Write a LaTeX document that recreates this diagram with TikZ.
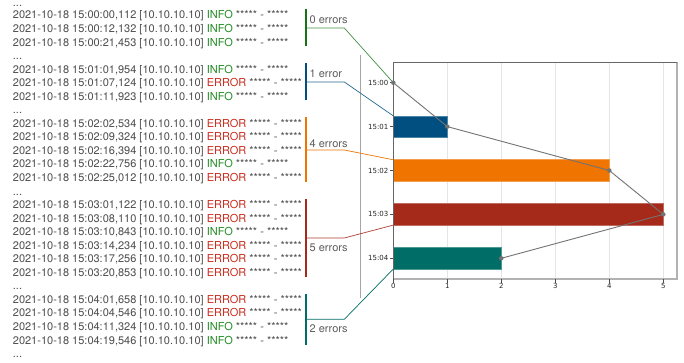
\documentclass[tikz,border=0pt]{standalone}
\usepackage{fontspec}
\setmainfont{TeX Gyre Heros}
\newfontfamily\tickfont{DejaVu Sans}
\definecolor{logtext}{RGB}{77,77,77}
\definecolor{infogreen}{RGB}{34,139,34}
\definecolor{errred}{RGB}{200,45,30}
\definecolor{cgreen}{RGB}{20,115,20}
\definecolor{cblue}{RGB}{0,79,128}
\definecolor{corange}{RGB}{240,116,0}
\definecolor{cred}{RGB}{165,42,26}
\definecolor{cteal}{RGB}{0,110,102}
\definecolor{lbl}{RGB}{95,95,95}
\newcommand\INFO{\textcolor{infogreen}{INFO}}
\newcommand\ERR{\textcolor{errred}{ERROR}}
\tikzset{
  logline/.style={anchor=base west, inner sep=0pt, font=\fontsize{11}{13}\selectfont, text=logtext},
  brk/.style={line width=2.3pt},
  conn/.style={line width=0.7pt},
  errlbl/.style={anchor=west, inner sep=0pt, font=\fontsize{11}{13}\selectfont, text=lbl},
  ytick/.style={anchor=east, inner sep=0pt, font=\tickfont\fontsize{7}{8}\selectfont, text=black!85},
  xtick/.style={anchor=north, inner sep=0pt, font=\tickfont\fontsize{7}{8}\selectfont, text=black!85},
  bar/.style={line width=0.6pt},
  grid/.style={draw=black!10, line width=0.7pt},
  trend/.style={draw=black!55, line width=0.9pt},
  dot/.style={circle, fill=black!55, inner sep=0pt, minimum size=4.5pt}
}
\begin{document}
\begin{tikzpicture}[x=1pt,y=-1pt]
\useasboundingbox (0,0) rectangle (684,363);
\fill[white] (0,0) rectangle (684,363);
% log lines: baseline = 5.5 + 13.54 i
\node[logline] (l0)  at (12.7,  6.3) {...};
\node[logline] (l1)  at (12.7, 19.0) {2021-10-18 15:00:00,112 [10.10.10.10] \INFO{} ***** - *****};
\node[logline] (l2)  at (12.7, 32.6) {2021-10-18 15:00:12,132 [10.10.10.10] \INFO{} ***** - *****};
\node[logline] (l3)  at (12.7, 46.1) {2021-10-18 15:00:21,453 [10.10.10.10] \INFO{} ***** - *****};
\node[logline] (l4)  at (12.7, 59.7) {...};
\node[logline] (l5)  at (12.7, 73.2) {2021-10-18 15:01:01,954 [10.10.10.10] \INFO{} ***** - *****};
\node[logline] (l6)  at (12.7, 86.7) {2021-10-18 15:01:07,124 [10.10.10.10] \ERR{} ***** - *****};
\node[logline] (l7)  at (12.7,100.3) {2021-10-18 15:01:11,923 [10.10.10.10] \INFO{} ***** - *****};
\node[logline] (l8)  at (12.7,113.8) {...};
\node[logline] (l9)  at (12.7,127.4) {2021-10-18 15:02:02,534 [10.10.10.10] \ERR{} ***** - *****};
\node[logline] (l10) at (12.7,140.9) {2021-10-18 15:02:09,324 [10.10.10.10] \ERR{} ***** - *****};
\node[logline] (l11) at (12.7,154.4) {2021-10-18 15:02:16,394 [10.10.10.10] \ERR{} ***** - *****};
\node[logline] (l12) at (12.7,168.0) {2021-10-18 15:02:22,756 [10.10.10.10] \INFO{} ***** - *****};
\node[logline] (l13) at (12.7,181.5) {2021-10-18 15:02:25,012 [10.10.10.10] \ERR{} ***** - *****};
\node[logline] (l14) at (12.7,195.1) {...};
\node[logline] (l15) at (12.7,208.6) {2021-10-18 15:03:01,122 [10.10.10.10] \ERR{} ***** - *****};
\node[logline] (l16) at (12.7,222.1) {2021-10-18 15:03:08,110 [10.10.10.10] \ERR{} ***** - *****};
\node[logline] (l17) at (12.7,235.7) {2021-10-18 15:03:10,843 [10.10.10.10] \INFO{} ***** - *****};
\node[logline] (l18) at (12.7,249.2) {2021-10-18 15:03:14,234 [10.10.10.10] \ERR{} ***** - *****};
\node[logline] (l19) at (12.7,262.8) {2021-10-18 15:03:17,256 [10.10.10.10] \ERR{} ***** - *****};
\node[logline] (l20) at (12.7,276.3) {2021-10-18 15:03:20,853 [10.10.10.10] \ERR{} ***** - *****};
\node[logline] (l21) at (12.7,289.8) {...};
\node[logline] (l22) at (12.7,303.4) {2021-10-18 15:04:01,658 [10.10.10.10] \ERR{} ***** - *****};
\node[logline] (l23) at (12.7,316.9) {2021-10-18 15:04:04,546 [10.10.10.10] \ERR{} ***** - *****};
\node[logline] (l24) at (12.7,330.5) {2021-10-18 15:04:11,324 [10.10.10.10] \INFO{} ***** - *****};
\node[logline] (l25) at (12.7,344.0) {2021-10-18 15:04:19,546 [10.10.10.10] \INFO{} ***** - *****};
\node[logline] (l26) at (12.7,357.5) {...};

% separator
\draw[black!35, line width=0.8pt] (360.3,55) -- (360.3,298);

% chart: gridlines
\foreach \v in {1,...,5} \draw[grid] ({393.3+54*\v},62.3) -- ({393.3+54*\v},279);
% bars
\fill[cblue, draw=cblue!70!white, bar] (393.3,115.9) rectangle (447.3,137.3);
\fill[corange, draw=corange!70!white, bar] (393.3,159.8) rectangle (609.3,181.2);
\fill[cred, draw=cred!70!white, bar] (393.3,203.7) rectangle (663.3,225.1);
\fill[cteal, draw=cteal!70!white, bar] (393.3,247.6) rectangle (501.3,269);
% frame
\draw[black!30, line width=1.8pt] (393.3,279) -- (677,279) -- (677,62.3);
\draw[black!60, line width=0.9pt] (677,62.3) -- (393.3,62.3) -- (393.3,279);
% ticks
\foreach \k/\t in {0/15:00,1/15:01,2/15:02,3/15:03,4/15:04}{
  \draw[black!70, line width=0.6pt] (390,{82.7+43.9*\k}) -- (393.3,{82.7+43.9*\k});
  \node[ytick] (yt\k) at (388.5,{82.7+43.9*\k}) {\t};
}
\foreach \v in {0,...,5}{
  \draw[black!70, line width=0.6pt] ({393.3+54*\v},279) -- ({393.3+54*\v},282.5);
  \node[xtick] (xt\v) at ({393.3+54*\v},283.5) {\v};
}

% chart anchor points
\coordinate (p0) at (393.3,82.7);
\coordinate (p1) at (447.3,126.6);
\coordinate (p2) at (609.3,170.5);
\coordinate (p3) at (663.3,214.4);
\coordinate (p4) at (501.3,258.3);
\coordinate (e1) at (393.3,115.9);
\coordinate (e2) at (393.3,159.8);
\coordinate (e3) at (393.3,225.1);
\coordinate (e4) at (393.3,269);

% brackets
\draw[brk, cgreen] (306.3,9) -- (306.3,46);
\draw[brk, cblue] (306.3,63.3) -- (306.3,100);
\draw[brk, corange] (306.3,117.3) -- (306.3,182.3);
\draw[brk, cred] (306.3,199.3) -- (306.3,276.7);
\draw[brk, cteal] (306.3,293.7) -- (306.3,345);
\coordinate (b0) at (307,28);    \coordinate (k0) at (344.3,28);
\coordinate (b1) at (307,82);    \coordinate (k1) at (344.3,82);
\coordinate (b2) at (307,150);   \coordinate (k2) at (344.3,150);
\coordinate (b3) at (307,238);   \coordinate (k3) at (344.3,238);
\coordinate (b4) at (307,319.3); \coordinate (k4) at (344.3,319.3);
\draw[conn, cgreen!80!white] (b0) -- (k0) -- (p0);
\draw[conn, cblue!85!white] (b1) -- (k1) -- (e1);
\draw[conn, corange] (b2) -- (k2) -- (e2);
\draw[conn, cred!90!white] (b3) -- (k3) -- (e3);
\draw[conn, cteal] (b4) -- (k4) -- (e4);
\node[errlbl] (t0) at (309.5,20) {0 errors};
\node[errlbl] (t1) at (309.5,74) {1 error};
\node[errlbl] (t2) at (309.5,143.3) {4 errors};
\node[errlbl] (t3) at (309.5,247.7) {5 errors};
\node[errlbl] (t4) at (309.5,328.7) {2 errors};

% trend line
\draw[trend] (p0) -- (p1) -- (p2) -- (p3) -- (p4);
\foreach \p in {p0,p1,p2,p3,p4} \node[dot] at (\p) {};
\end{tikzpicture}
\end{document}
